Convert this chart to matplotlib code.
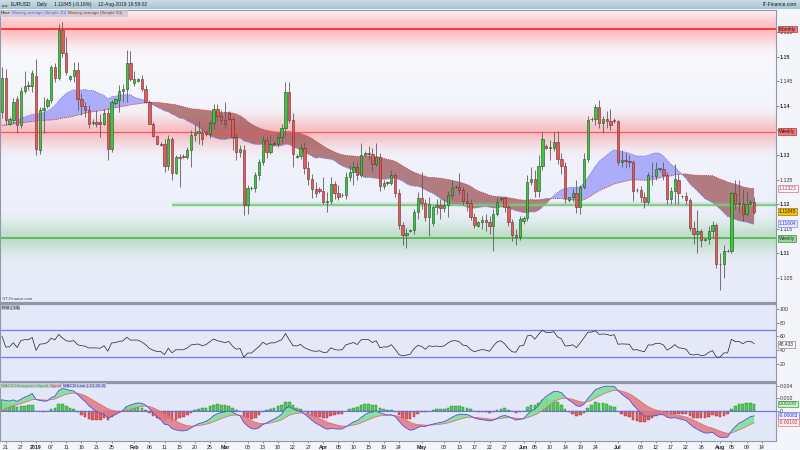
import numpy as np
import pandas as pd
import matplotlib
matplotlib.use("Agg")
import matplotlib.pyplot as plt
import matplotlib.transforms as mtransforms
from matplotlib.colors import to_rgb

plt.rcParams['font.family'] = ['Liberation Sans', 'DejaVu Sans']

# ------------------------------------------------------------------ data
opens = [1.1388, 1.1456, 1.1364, 1.1371, 1.1413, 1.1361, 1.1430, 1.1443, 1.1440, 1.1460,
         1.1311, 1.1391, 1.1399, 1.1412, 1.1478, 1.1457, 1.1555, 1.1508, 1.1454, 1.1460,
         1.1472, 1.1413, 1.1400, 1.1392, 1.1365, 1.1367, 1.1368, 1.1362, 1.1386, 1.1313,
         1.1405, 1.1412, 1.1430, 1.1435, 1.1486, 1.1447, 1.1451, 1.1454, 1.1435, 1.1408,
         1.1364, 1.1338, 1.1323, 1.1323, 1.1278, 1.1333, 1.1264, 1.1296, 1.1298, 1.1295,
         1.1311, 1.1340, 1.1345, 1.1345, 1.1347, 1.1342, 1.1366, 1.1393, 1.1379, 1.1372,
         1.1386, 1.1374, 1.1336, 1.1307, 1.1311, 1.1198, 1.1232, 1.1232, 1.1259, 1.1286,
         1.1330, 1.1306, 1.1325, 1.1322, 1.1336, 1.1354, 1.1429, 1.1372, 1.1296, 1.1298,
         1.1315, 1.1273, 1.1252, 1.1230, 1.1230, 1.1227, 1.1205, 1.1206, 1.1242, 1.1222,
         1.1218, 1.1218, 1.1256, 1.1266, 1.1276, 1.1259, 1.1300, 1.1305, 1.1303, 1.1282,
         1.1296, 1.1237, 1.1246, 1.1243, 1.1259, 1.1222, 1.1157, 1.1137, 1.1146, 1.1148,
         1.1185, 1.1212, 1.1203, 1.1174, 1.1162, 1.1195, 1.1198, 1.1193, 1.1198, 1.1218,
         1.1235, 1.1235, 1.1228, 1.1206, 1.1203, 1.1174, 1.1155, 1.1163, 1.1168, 1.1164,
         1.1156, 1.1181, 1.1210, 1.1212, 1.1195, 1.1164, 1.1137, 1.1134, 1.1165, 1.1171,
         1.1246, 1.1252, 1.1227, 1.1277, 1.1318, 1.1315, 1.1315, 1.1327, 1.1291, 1.1277,
         1.1208, 1.1214, 1.1222, 1.1195, 1.1235, 1.1291, 1.1373, 1.1374, 1.1397, 1.1366,
         1.1373, 1.1370, 1.1372, 1.1369, 1.1286, 1.1290, 1.1288, 1.1286, 1.1229, 1.1229,
         1.1215, 1.1205, 1.1257, 1.1257, 1.1272, 1.1272, 1.1259, 1.1210, 1.1227, 1.1250,
         1.1217, 1.1217, 1.1208, 1.1151, 1.1140, 1.1146, 1.1127, 1.1130, 1.1146, 1.1157,
         1.1079, 1.1078, 1.1105, 1.1105, 1.1223, 1.1200, 1.1203, 1.1180, 1.1201, 1.1204]

highs = [1.1478, 1.1474, 1.1378, 1.1416, 1.1420, 1.1438, 1.1470, 1.1450, 1.1472, 1.1496,
         1.1398, 1.1418, 1.1415, 1.1483, 1.1486, 1.1567, 1.1571, 1.1540, 1.1462, 1.1489,
         1.1489, 1.1425, 1.1408, 1.1401, 1.1374, 1.1391, 1.1384, 1.1394, 1.1396, 1.1412,
         1.1416, 1.1442, 1.1444, 1.1514, 1.1512, 1.1470, 1.1457, 1.1462, 1.1442, 1.1412,
         1.1367, 1.1340, 1.1326, 1.1333, 1.1340, 1.1337, 1.1300, 1.1301, 1.1301, 1.1317,
         1.1350, 1.1362, 1.1370, 1.1352, 1.1349, 1.1371, 1.1404, 1.1404, 1.1391, 1.1408,
         1.1390, 1.1380, 1.1345, 1.1320, 1.1320, 1.1240, 1.1236, 1.1265, 1.1292, 1.1338,
         1.1336, 1.1340, 1.1328, 1.1345, 1.1362, 1.1449, 1.1448, 1.1385, 1.1302, 1.1325,
         1.1327, 1.1288, 1.1262, 1.1245, 1.1234, 1.1255, 1.1225, 1.1255, 1.1248, 1.1240,
         1.1222, 1.1265, 1.1280, 1.1288, 1.1286, 1.1324, 1.1308, 1.1318, 1.1315, 1.1324,
         1.1305, 1.1250, 1.1248, 1.1270, 1.1264, 1.1230, 1.1163, 1.1152, 1.1150, 1.1190,
         1.1225, 1.1265, 1.1210, 1.1215, 1.1198, 1.1210, 1.1210, 1.1210, 1.1226, 1.1250,
         1.1238, 1.1264, 1.1235, 1.1225, 1.1210, 1.1183, 1.1166, 1.1175, 1.1180, 1.1175,
         1.1190, 1.1215, 1.1214, 1.1216, 1.1200, 1.1170, 1.1150, 1.1175, 1.1175, 1.1260,
         1.1275, 1.1270, 1.1300, 1.1347, 1.1322, 1.1330, 1.1347, 1.1348, 1.1305, 1.1285,
         1.1215, 1.1232, 1.1250, 1.1240, 1.1305, 1.1380, 1.1378, 1.1404, 1.1412, 1.1380,
         1.1390, 1.1393, 1.1376, 1.1372, 1.1310, 1.1305, 1.1300, 1.1290, 1.1232, 1.1237,
         1.1225, 1.1265, 1.1285, 1.1286, 1.1274, 1.1285, 1.1265, 1.1235, 1.1282, 1.1262,
         1.1219, 1.1225, 1.1212, 1.1165, 1.1188, 1.1150, 1.1132, 1.1155, 1.1165, 1.1162,
         1.1100, 1.1118, 1.1108, 1.1225, 1.1250, 1.1249, 1.1230, 1.1225, 1.1208, 1.1215]

lows = [1.1375, 1.1360, 1.1360, 1.1366, 1.1344, 1.1355, 1.1425, 1.1433, 1.1428, 1.1300,
        1.1303, 1.1344, 1.1395, 1.1405, 1.1448, 1.1452, 1.1500, 1.1462, 1.1450, 1.1449,
        1.1391, 1.1381, 1.1378, 1.1354, 1.1361, 1.1357, 1.1337, 1.1360, 1.1290, 1.1306,
        1.1402, 1.1388, 1.1408, 1.1408, 1.1450, 1.1440, 1.1448, 1.1431, 1.1405, 1.1362,
        1.1336, 1.1322, 1.1318, 1.1266, 1.1269, 1.1249, 1.1262, 1.1235, 1.1293, 1.1292,
        1.1276, 1.1328, 1.1323, 1.1321, 1.1338, 1.1335, 1.1352, 1.1368, 1.1362, 1.1355,
        1.1372, 1.1311, 1.1290, 1.1295, 1.1178, 1.1180, 1.1228, 1.1225, 1.1250, 1.1280,
        1.1294, 1.1303, 1.1320, 1.1317, 1.1325, 1.1338, 1.1365, 1.1276, 1.1293, 1.1292,
        1.1262, 1.1240, 1.1212, 1.1215, 1.1222, 1.1200, 1.1184, 1.1200, 1.1210, 1.1208,
        1.1214, 1.1210, 1.1248, 1.1240, 1.1250, 1.1255, 1.1298, 1.1290, 1.1268, 1.1278,
        1.1226, 1.1230, 1.1240, 1.1238, 1.1215, 1.1150, 1.1118, 1.1110, 1.1143, 1.1140,
        1.1170, 1.1190, 1.1165, 1.1136, 1.1155, 1.1180, 1.1170, 1.1185, 1.1174, 1.1210,
        1.1232, 1.1220, 1.1199, 1.1187, 1.1167, 1.1152, 1.1153, 1.1150, 1.1145, 1.1140,
        1.1105, 1.1175, 1.1206, 1.1185, 1.1155, 1.1125, 1.1117, 1.1128, 1.1160, 1.1165,
        1.1238, 1.1215, 1.1215, 1.1270, 1.1312, 1.1290, 1.1308, 1.1282, 1.1262, 1.1202,
        1.1205, 1.1205, 1.1183, 1.1180, 1.1230, 1.1285, 1.1370, 1.1360, 1.1355, 1.1345,
        1.1355, 1.1350, 1.1366, 1.1280, 1.1275, 1.1273, 1.1275, 1.1207, 1.1225, 1.1205,
        1.1193, 1.1200, 1.1240, 1.1250, 1.1268, 1.1250, 1.1200, 1.1200, 1.1200, 1.1200,
        1.1213, 1.1200, 1.1145, 1.1120, 1.1100, 1.1112, 1.1125, 1.1120, 1.1132, 1.1070,
        1.1026, 1.1050, 1.1103, 1.1100, 1.1190, 1.1182, 1.1166, 1.1175, 1.1198, 1.1180]

closes = [1.1456, 1.1371, 1.1373, 1.1407, 1.1361, 1.1430, 1.1441, 1.1440, 1.1467, 1.1313,
          1.1391, 1.1396, 1.1412, 1.1478, 1.1457, 1.1554, 1.1508, 1.1469, 1.1460, 1.1472,
          1.1413, 1.1400, 1.1392, 1.1364, 1.1367, 1.1364, 1.1362, 1.1386, 1.1313, 1.1408,
          1.1413, 1.1430, 1.1435, 1.1486, 1.1454, 1.1455, 1.1454, 1.1435, 1.1408, 1.1364,
          1.1338, 1.1323, 1.1321, 1.1278, 1.1333, 1.1264, 1.1295, 1.1294, 1.1295, 1.1311,
          1.1340, 1.1345, 1.1348, 1.1332, 1.1342, 1.1366, 1.1393, 1.1379, 1.1372, 1.1364,
          1.1374, 1.1336, 1.1307, 1.1312, 1.1198, 1.1232, 1.1232, 1.1259, 1.1286, 1.1330,
          1.1306, 1.1323, 1.1322, 1.1336, 1.1354, 1.1429, 1.1372, 1.1302, 1.1298, 1.1315,
          1.1273, 1.1252, 1.1230, 1.1222, 1.1227, 1.1205, 1.1206, 1.1242, 1.1222, 1.1215,
          1.1218, 1.1256, 1.1266, 1.1276, 1.1259, 1.1300, 1.1305, 1.1303, 1.1282, 1.1296,
          1.1237, 1.1244, 1.1243, 1.1259, 1.1222, 1.1157, 1.1137, 1.1142, 1.1148, 1.1185,
          1.1212, 1.1203, 1.1174, 1.1201, 1.1195, 1.1198, 1.1193, 1.1198, 1.1218, 1.1233,
          1.1235, 1.1228, 1.1206, 1.1203, 1.1174, 1.1157, 1.1163, 1.1168, 1.1164, 1.1156,
          1.1181, 1.1205, 1.1212, 1.1195, 1.1164, 1.1137, 1.1134, 1.1169, 1.1171, 1.1246,
          1.1252, 1.1227, 1.1277, 1.1332, 1.1315, 1.1315, 1.1327, 1.1291, 1.1277, 1.1212,
          1.1214, 1.1222, 1.1195, 1.1235, 1.1291, 1.1371, 1.1374, 1.1397, 1.1366, 1.1373,
          1.1370, 1.1361, 1.1370, 1.1286, 1.1290, 1.1288, 1.1286, 1.1226, 1.1229, 1.1215,
          1.1205, 1.1259, 1.1257, 1.1271, 1.1272, 1.1259, 1.1210, 1.1227, 1.1252, 1.1222,
          1.1217, 1.1208, 1.1151, 1.1140, 1.1146, 1.1127, 1.1130, 1.1146, 1.1157, 1.1079,
          1.1078, 1.1105, 1.1105, 1.1223, 1.1200, 1.1203, 1.1180, 1.1201, 1.1204, 1.11845]

sma20_lead = [1.1360, 1.1361, 1.1362, 1.1365, 1.1369, 1.1374, 1.1377, 1.1380, 1.1382, 1.1383,
              1.1384, 1.1386, 1.1389, 1.1394, 1.1400, 1.1410, 1.1418, 1.1425, 1.1429]
sma50_lead = [1.1360, 1.1361, 1.1362, 1.1363, 1.1364, 1.1365, 1.1366, 1.1367, 1.1368, 1.1369,
              1.1370, 1.1370, 1.1371, 1.1371, 1.1372, 1.1373, 1.1375, 1.1376, 1.1377, 1.1379,
              1.1381, 1.1383, 1.1385, 1.1387, 1.1388, 1.1389, 1.1390, 1.1391, 1.1393, 1.1394,
              1.1396, 1.1397, 1.1399, 1.1400, 1.1402, 1.1403, 1.1404, 1.1405, 1.1406, 1.1407,
              1.1407, 1.1407, 1.1406, 1.1405, 1.1404, 1.1403, 1.1402, 1.1400, 1.1398]
# indicator state before the first candle (chosen to match the chart's starting levels)
ema_fast_seed, ema_slow_seed, signal_seed = 1.1352, 1.1342, -0.0004
rsi_gain_seed, rsi_loss_seed = 0.0012, 0.0008

first_date = '2018-12-20'
last_axis_date = '2019-08-18'
market_holidays = ['2018-12-25', '2019-01-01']

tick_dates = ['2018-12-21', '2018-12-27', '2019-01-02', '2019-01-07', '2019-01-11', '2019-01-16',
              '2019-01-21', '2019-01-25', '2019-02-01', '2019-02-06', '2019-02-11', '2019-02-15',
              '2019-02-20', '2019-02-25', '2019-03-01', '2019-03-08', '2019-03-13', '2019-03-18',
              '2019-03-22', '2019-03-27', '2019-04-01', '2019-04-05', '2019-04-10', '2019-04-15',
              '2019-04-19', '2019-04-24', '2019-05-01', '2019-05-08', '2019-05-13', '2019-05-17',
              '2019-05-22', '2019-05-27', '2019-06-02', '2019-06-05', '2019-06-10', '2019-06-14',
              '2019-06-19', '2019-06-24', '2019-07-01', '2019-07-08', '2019-07-12', '2019-07-17',
              '2019-07-22', '2019-07-26', '2019-08-01', '2019-08-05', '2019-08-09', '2019-08-14']
tick_labels = ['21', '27', '2019', '07', '11', '16', '21', '25', 'Feb', '06', '11', '15',
               '20', '25', 'Mar', '08', '13', '18', '22', '27', 'Apr', '05', '10', '15',
               '19', '24', 'May', '08', '13', '17', '22', '27', 'Jun', '05', '10', '14',
               '19', '24', 'Jul', '08', '12', '17', '22', '26', 'Aug', '05', '09', '14']
bold_ticks = ['2019', 'Feb', 'Mar', 'Apr', 'May', 'Jun', 'Jul', 'Aug']

price_ticks = [1.105, 1.11, 1.115, 1.12, 1.125, 1.13, 1.135, 1.14, 1.145, 1.15, 1.155]
price_tick_labels = ['1.105', '1.11', '1.115', '1.12', '1.125', '1.13', '1.135', '1.14', '1.145', '1.15', '1.155']
rsi_ticks = [20, 40, 60, 80, 100]
macd_ticks = [0.0, 0.002, 0.004]
macd_tick_labels = ['0', '0.002', '0.004']

monthly_res = 1.1556
weekly_res = 1.1347
weekly_sup = 1.1131
daily_sup = 1.1199
daily_sup_from = '2019-02-13'

sma_fast, sma_slow = 20, 50
rsi_period = 14
macd_fast, macd_slow, macd_sig = 12, 26, 9

price_boxes = [('Monthly', 1.1556), ('Weekly', 1.1347), ('1.12323', 1.12323),
               ('1.11845', 1.11845), ('1.11604', 1.11604), ('Weekly', 1.1131)]
rsi_box = ('48.433', 48.433)
macd_boxes = [('0.00109', 0.00109), ('-0.00083', -0.00083), ('-0.00192', -0.00192)]

header_items = ['EURUSD', 'Daily', '1.11845 (-0.16%)', '12-Aug-2019 19:58:02']
price_legend = [('Price', '#222222'), ('Moving average (Simple 20)', '#5a5aff'),
                ('Moving average (Simple 50)', '#b02a2a')]
macd_legend = [('MACD Histogram Signal', '#3cb43c'), ('Signal', '#d84040'),
               ('MACD Line ( 12,26,9)', '#3a3ad8')]

# ------------------------------------------------------------------ derived
days = pd.date_range(first_date, last_axis_date, freq='D')
days = [d for d in days if d.weekday() != 5 and d.strftime('%Y-%m-%d') not in market_holidays]
pos_of = {d.strftime('%Y-%m-%d'): i for i, d in enumerate(days)}

n = min(len(opens), len(highs), len(lows), len(closes))
o = np.array(opens[:n]); h = np.array(highs[:n]); l = np.array(lows[:n]); c = np.array(closes[:n])
h = np.maximum(h, np.maximum(o, c)); l = np.minimum(l, np.minimum(o, c))
x = np.arange(n)
cs = pd.Series(c)

sma20 = cs.rolling(sma_fast).mean().values
sma20[:len(sma20_lead)] = sma20_lead
sma50 = cs.rolling(sma_slow).mean().values
sma50[:len(sma50_lead)] = sma50_lead

d = cs.diff().fillna(0)
gain = pd.Series([rsi_gain_seed] + list(d.clip(lower=0)))
loss = pd.Series([rsi_loss_seed] + list(-d.clip(upper=0)))
ag = gain.ewm(alpha=1 / rsi_period, adjust=False).mean().values[1:]
al = loss.ewm(alpha=1 / rsi_period, adjust=False).mean().values[1:]
rsi = 100 - 100 / (1 + ag / al)

ema_f = pd.Series([ema_fast_seed] + list(c)).ewm(span=macd_fast, adjust=False).mean().values[1:]
ema_s = pd.Series([ema_slow_seed] + list(c)).ewm(span=macd_slow, adjust=False).mean().values[1:]
macd = ema_f - ema_s
signal = pd.Series([signal_seed] + list(macd)).ewm(span=macd_sig, adjust=False).mean().values[1:]
hist = macd - signal

# ------------------------------------------------------------------ figure
W, H = 800, 450
fig = plt.figure(figsize=(8, 4.5), dpi=100, facecolor='#f4f5fa')
PR = 776
XLO, XHI = -0.53, 204.8


def fy(py):
    return 1 - py / H


def panel(top, bottom):
    a = fig.add_axes([0, fy(bottom), PR / W, (bottom - top) / H])
    a.set_xlim(XLO, XHI)
    for s in a.spines.values():
        s.set_color('#8e99aa')
        s.set_linewidth(0.8)
    a.yaxis.tick_right()
    a.tick_params(axis='y', direction='out', length=2, width=0.5, colors='#666666',
                  labelsize=3.8, labelcolor='#333333', pad=0.8)
    return a


renderer = fig.canvas.get_renderer()


def seq_text(items, x0, py, gap, size, box=None):
    xp = x0
    for txt, col in items:
        kw = {}
        if box is not None:
            kw['bbox'] = dict(boxstyle='square,pad=0.12', fc=box, ec='none')
        t = fig.text(xp / W, fy(py), txt, fontsize=size, color=col, va='center', ha='left', zorder=8, **kw)
        bb = t.get_window_extent(renderer=renderer)
        xp = bb.x1 + gap


# header bar
hd = fig.add_axes([0, fy(9.5), 1, 9.5 / H])
grad = np.linspace(0, 1, 50)[:, None, None]
top_c = np.array(to_rgb('#cfe0e8')); bot_c = np.array(to_rgb('#a6c3d1'))
hd.imshow(top_c * (1 - grad) + bot_c * grad, aspect='auto', extent=[0, 1, 0, 1])
hd.set_xlim(0, 1); hd.set_ylim(0, 1); hd.axis('off')
fig.text(2.0 / W, fy(5.0), '\u25a0', color='#d04040', fontsize=3.0, va='center')
fig.text(5.0 / W, fy(4.6), '\u25a0', color='#30a030', fontsize=3.0, va='center')
seq_text([(s, '#1a1a1a') for s in header_items], 10.5, 4.8, 6, 3.5)
fig.text(797 / W, fy(4.8), 'IT-Finance.com', fontsize=3.5, color='#1a1a1a', va='center', ha='right')

# ---------------- price panel
ax = panel(10, 302)
YLO, YHI = 1.10012, 1.15947
ax.set_ylim(YLO, YHI)
py = np.linspace(YLO, YHI, 700)
t = (py - YLO) / (YHI - YLO)
base = np.array(to_rgb('#e6eaf9'))[None, :] * (1 - t[:, None]) + np.array(to_rgb('#fbfbfe'))[None, :] * t[:, None]


def blend(b, col, a):
    return b * (1 - a[:, None]) + np.array(to_rgb(col))[None, :] * a[:, None]


sig = 0.0021
base = blend(base, '#ff6a6a', 0.42 * np.exp(-0.5 * ((py - monthly_res) / sig) ** 2))
base = blend(base, '#ff6a6a', 0.38 * np.exp(-0.5 * ((py - weekly_res) / sig) ** 2))
base = blend(base, '#5cbf5c', 0.32 * np.exp(-0.5 * ((py - weekly_sup) / sig) ** 2))
ax.imshow(base[:, None, :], extent=[XLO, XHI, YLO, YHI], origin='lower', aspect='auto',
          interpolation='bilinear', zorder=0)
ax.set_xlim(XLO, XHI); ax.set_ylim(YLO, YHI)

ax.axhline(monthly_res, color='#ff2e2e', lw=1.3, zorder=2)
ax.axhline(weekly_res, color='#f05a5a', lw=0.9, zorder=2)
ax.axhline(weekly_sup, color='#5db55d', lw=1.3, zorder=2)
xs = pos_of[daily_sup_from]
ax.fill_between([xs, XHI], daily_sup - 0.0005, daily_sup + 0.0005, color='#7ccf7c', alpha=0.25, lw=0, zorder=2)
ax.hlines(daily_sup, xs, XHI, color='#7cc97c', lw=1.2, zorder=2)

ax.fill_between(x, sma20, sma50, where=sma20 >= sma50, interpolate=True, color='#9696f8', alpha=0.75, lw=0, zorder=1)
ax.fill_between(x, sma20, sma50, where=sma20 < sma50, interpolate=True, color='#944545', alpha=0.68, lw=0, zorder=1)
ax.plot(x, sma20, color='#7474ee', lw=0.6, ls=(0, (1.5, 1)), zorder=1.3)
ax.plot(x, sma50, color='#c04a4a', lw=0.6, ls=(0, (1.5, 1)), zorder=1.3)

up = c >= o
blo = np.minimum(o, c)
bh = np.maximum(np.abs(c - o), 0.00006)
ax.vlines(x, l, h, color='#5c5c5c', lw=0.6, zorder=3)
ax.bar(x[up], bh[up], bottom=blo[up], width=0.62, color='#3fc53f', edgecolor='#1d4d1d', lw=0.4, zorder=4)
ax.bar(x[~up], bh[~up], bottom=blo[~up], width=0.62, color='#e25a5a', edgecolor='#6e2a2a', lw=0.4, zorder=4)

ax.set_yticks(price_ticks)
ax.set_yticklabels(price_tick_labels)
for lab in ax.get_yticklabels():
    if len(lab.get_text()) <= 4:
        lab.set_fontweight('bold')
ax.set_xticks([])

# legend strip
fig.patches.append(plt.Rectangle((0, fy(16.5)), 128 / W, 6.5 / H, transform=fig.transFigure,
                                 facecolor='#c3c7d3', alpha=0.75, edgecolor='none', zorder=5))
seq_text(price_legend, 1.0, 13.3, 1.5, 3.2)
fig.text(2 / W, fy(298.5), '\u00a9IT-Finance.com', fontsize=3.0, color='#444444', va='center')

trans = mtransforms.blended_transform_factory(ax.transAxes, ax.transData)
box_style = {
    'Monthly': dict(fc='#e77c7c', ec='#b03a3a', tc='#4a0000'),
    'Weekly_r': dict(fc='#e77c7c', ec='#b03a3a', tc='#4a0000'),
    '1.12323': dict(fc='#fff6f8', ec='#d07090', tc='#b03a60'),
    '1.11845': dict(fc='#f7c300', ec='#a07800', tc='#202020'),
    '1.11604': dict(fc='#e6e8ff', ec='#8a8af0', tc='#4040c8'),
    'Weekly_g': dict(fc='#9bd79b', ec='#3e8c3e', tc='#1b3f1b'),
}
for txt, v in price_boxes:
    key = txt
    if txt == 'Weekly':
        key = 'Weekly_r' if v > 1.12 else 'Weekly_g'
    st = box_style[key]
    ax.text(1.004, v, txt, transform=trans, fontsize=3.5, color=st['tc'], va='center', ha='left',
            clip_on=False, zorder=10,
            bbox=dict(boxstyle='square,pad=0.18', fc=st['fc'], ec=st['ec'], lw=0.5))

# ---------------- RSI panel
ar = panel(304, 381)
ar.set_facecolor('#e4e8f8')
ar.set_ylim(-5.2, 107.4)
ar.axhline(70, color='#7878ee', lw=0.9)
ar.axhline(30, color='#7878ee', lw=0.9)
ar.plot(x, rsi, color='#333333', lw=0.55)
ar.set_yticks(rsi_ticks)
ar.set_yticklabels([str(v) for v in rsi_ticks])
ar.set_xticks([])
ar.spines['top'].set_linewidth(1.6)
ar.text(0.002, 1.0 - 0.02, 'RSI ( 14)', transform=ar.transAxes, fontsize=3.2, color='#222222',
        va='top', ha='left', bbox=dict(boxstyle='square,pad=0.15', fc='#b9c3cc', ec='none'))
tr_r = mtransforms.blended_transform_factory(ar.transAxes, ar.transData)
ar.text(1.004, rsi_box[1], rsi_box[0], transform=tr_r, fontsize=3.5, color='#333333', va='center',
        ha='left', clip_on=False, zorder=10,
        bbox=dict(boxstyle='square,pad=0.18', fc='#f7f7f7', ec='#888888', lw=0.5))

# ---------------- MACD panel
am = panel(383, 441)
am.set_facecolor('#e3e8f8')
am.set_ylim(-0.0049, 0.00448)
hpos = hist >= 0
am.bar(x[hpos], hist[hpos], width=0.7, color='#4fcf4f', edgecolor='#2c7a2c', lw=0.3, zorder=1)
am.bar(x[~hpos], hist[~hpos], width=0.7, color='#e25c5c', edgecolor='#9a3030', lw=0.3, zorder=1)
am.axhline(0, color='#6c6ce8', lw=0.8, zorder=1.5)
am.fill_between(x, macd, signal, where=macd >= signal, interpolate=True, color='#7fe09a', alpha=0.9, lw=0, zorder=2)
am.fill_between(x, macd, signal, where=macd < signal, interpolate=True, color='#e07a82', alpha=0.85, lw=0, zorder=2)
am.plot(x, signal, color='#e07070', lw=0.6, zorder=3)
am.plot(x, macd, color='#5050e0', lw=0.6, zorder=3)
am.set_yticks(macd_ticks)
am.set_yticklabels(macd_tick_labels)
am.spines['top'].set_linewidth(1.6)
tr_m = mtransforms.blended_transform_factory(am.transAxes, am.transData)
mstyle = [dict(fc='#cdf3cd', ec='#3aa03a', tc='#1f6f1f'),
          dict(fc='#eef0ff', ec='#6c6ce8', tc='#3030c0'),
          dict(fc='#fff0f0', ec='#e07a7a', tc='#c03a3a')]
for (txt, v), st in zip(macd_boxes, mstyle):
    am.text(1.004, v, txt, transform=tr_m, fontsize=3.5, color=st['tc'], va='center', ha='left',
            clip_on=False, zorder=10, bbox=dict(boxstyle='square,pad=0.18', fc=st['fc'], ec=st['ec'], lw=0.5))
seq_text(macd_legend, 1.0, 385.6, 1.6, 3.2, box='#c3c8d4')

tpos = [pos_of[dd] for dd in tick_dates]
am.set_xticks(tpos)
am.set_xticklabels(tick_labels)
am.tick_params(axis='x', length=1.5, width=0.5, colors='#666666', labelsize=3.8, labelcolor='#222222', pad=1.2)
for lab in am.get_xticklabels():
    if lab.get_text() in bold_ticks:
        lab.set_fontweight('bold')

fig.savefig('out.png', dpi=100, facecolor=fig.get_facecolor())
